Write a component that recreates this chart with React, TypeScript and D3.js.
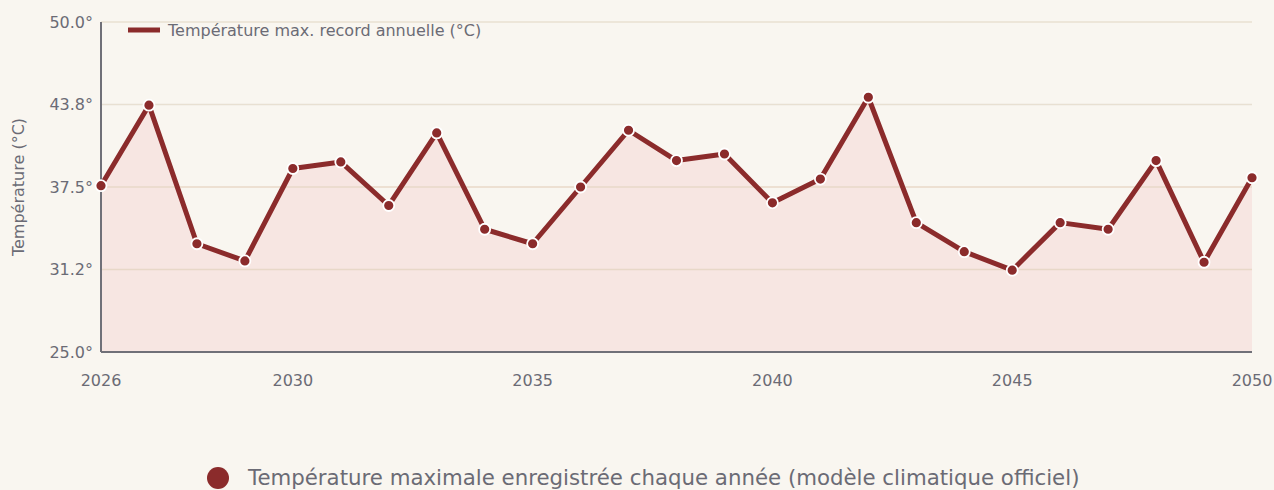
import React from "react";
import * as d3 from "d3";

// annual max temperature record
const years = [
  2026, 2027, 2028, 2029, 2030, 2031, 2032, 2033, 2034, 2035, 2036, 2037, 2038,
  2039, 2040, 2041, 2042, 2043, 2044, 2045, 2046, 2047, 2048, 2049, 2050,
];
const temps = [
  37.6, 43.7, 33.2, 31.9, 38.9, 39.4, 36.1, 41.6, 34.3, 33.2, 37.5, 41.8, 39.5,
  40.0, 36.3, 38.1, 44.3, 34.8, 32.6, 31.2, 34.8, 34.3, 39.5, 31.8, 38.2,
];
const yTicks = [25, 31.25, 37.5, 43.75, 50];
const yTickLabels = ["25.0°", "31.2°", "37.5°", "43.8°", "50.0°"];
const xTicks = [2026, 2030, 2035, 2040, 2045, 2050];

const seriesName = "Température max. record annuelle (°C)";
const bottomLegend =
  "Température maximale enregistrée chaque année (modèle climatique officiel)";
const yTitle = "Température (°C)";

const W = 1274;
const H = 490;
const margin = { top: 22, right: 22, bottom: 138, left: 101 };
const font = "'DejaVu Sans', sans-serif";
const textColor = "#6b6b75";
const lineColor = "#8b2b2b";

export default function App() {
  const data = years.map((y, i) => ({ year: y, value: temps[i] }));

  const x = d3
    .scaleLinear()
    .domain([2026, 2050])
    .range([margin.left, W - margin.right]);
  const y = d3
    .scaleLinear()
    .domain([25, 50])
    .range([H - margin.bottom, margin.top]);

  const line = d3
    .line<{ year: number; value: number }>()
    .x((d) => x(d.year))
    .y((d) => y(d.value));
  const area = d3
    .area<{ year: number; value: number }>()
    .x((d) => x(d.year))
    .y0(y(25))
    .y1((d) => y(d.value));

  return (
    <svg
      width={W}
      height={H}
      style={{ position: "absolute", left: 0, top: 0, background: "#f9f6f0" }}
      fontFamily={font}
    >
      <rect width={W} height={H} fill="#f9f6f0" />
      <path d={area(data) || ""} fill="#f7e6e2" />
      {yTicks.map((t) => (
        <line
          key={t}
          x1={x(2026)}
          x2={x(2050)}
          y1={y(t)}
          y2={y(t)}
          stroke={t < 40 && t > 25 ? "#e8d8c8" : "#e8e0d2"}
          strokeWidth={1.5}
        />
      ))}
      {yTicks.map((t, i) => (
        <text
          key={"l" + t}
          x={x(2026) - 8}
          y={y(t)}
          dy="0.35em"
          textAnchor="end"
          fontSize={16}
          fill={textColor}
        >
          {yTickLabels[i]}
        </text>
      ))}
      {xTicks.map((t) => (
        <text
          key={"x" + t}
          x={x(t)}
          y={y(25) + 34}
          textAnchor="middle"
          fontSize={16}
          fill={textColor}
        >
          {t}
        </text>
      ))}
      <text
        transform={`translate(24,${(y(25) + y(50)) / 2}) rotate(-90)`}
        textAnchor="middle"
        fontSize={16}
        fill={textColor}
      >
        {yTitle}
      </text>
      <line
        x1={x(2026)}
        x2={x(2026)}
        y1={y(50)}
        y2={y(25)}
        stroke="#707078"
        strokeWidth={2}
      />
      <line
        x1={x(2026)}
        x2={x(2050)}
        y1={y(25)}
        y2={y(25)}
        stroke="#707078"
        strokeWidth={2}
      />
      <path
        d={line(data) || ""}
        fill="none"
        stroke={lineColor}
        strokeWidth={5}
        strokeLinejoin="round"
      />
      {data.map((d) => (
        <circle
          key={d.year}
          cx={x(d.year)}
          cy={y(d.value)}
          r={5.5}
          fill={lineColor}
          stroke="#fff"
          strokeWidth={1.8}
        />
      ))}
      <line x1={128} x2={160} y1={30} y2={30} stroke={lineColor} strokeWidth={5} />
      <text x={168} y={30} dy="0.35em" fontSize={16} fill={textColor}>
        {seriesName}
      </text>
      <circle cx={218} cy={478} r={11} fill={lineColor} />
      <text x={248} y={478} dy="0.35em" fontSize={21.3} fill={textColor}>
        {bottomLegend}
      </text>
    </svg>
  );
}
